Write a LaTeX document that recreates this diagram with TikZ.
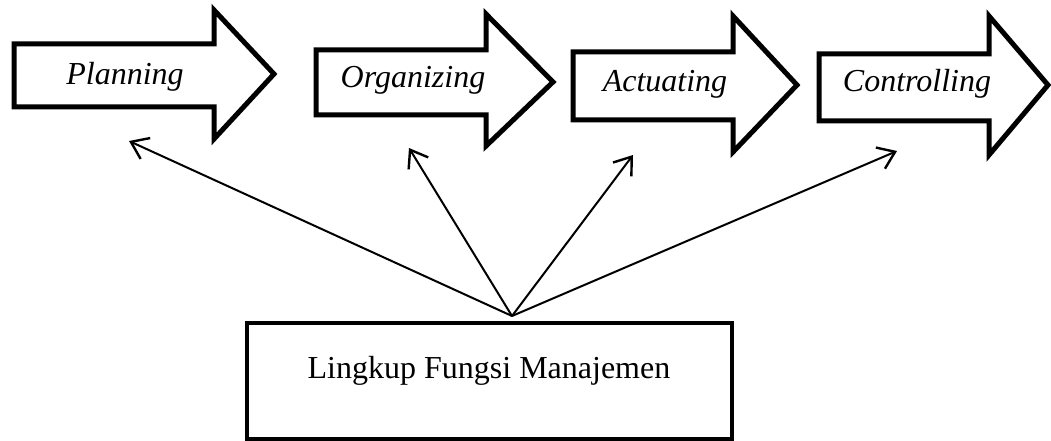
\documentclass[tikz,border=0pt]{standalone}
\usepackage{fontspec}
\setmainfont{Liberation Serif}
\usetikzlibrary{arrows.meta}
\begin{document}
\begin{tikzpicture}[x=1pt,y=-1pt,
  bigarrow/.style={draw=black,line width=5pt,miter limit=10,fill=white},
  func/.style={font=\fontsize{32}{38}\selectfont\itshape,anchor=base,inner sep=0pt},
  boxtext/.style={font=\fontsize{32}{38}\selectfont,anchor=base,inner sep=0pt},
  link/.style={line width=2pt,-{Straight Barb[length=16pt,width=23pt,line width=2.4pt]}}]
\useasboundingbox (0,0) rectangle (1051,441);
% block arrows
\draw[bigarrow] (14,44) -- (214,44) -- (214,10) -- (274,74) -- (214,139) -- (214,107) -- (14,107) -- cycle;
\draw[bigarrow] (316,50) -- (486,50) -- (486,14) -- (553,82) -- (486,146) -- (486,115) -- (316,115) -- cycle;
\draw[bigarrow] (573,52) -- (733,52) -- (733,16) -- (797,85) -- (733,152) -- (733,120) -- (573,120) -- cycle;
\draw[bigarrow] (819,54) -- (989,54) -- (989,16) -- (1048,85) -- (989,155) -- (989,121) -- (819,121) -- cycle;
% labels
\node[func] (plan) at (125,85) {Planning};
\node[func] (org) at (413,88) {Organizing};
\node[func] (act) at (665,92) {Actuating};
\node[func] (ctrl) at (917,92) {Controlling};
% scope box
\node[draw,line width=4.5pt,minimum width=485pt,minimum height=116pt,inner sep=0pt] (box) at (489.5,381) {};
\node[boxtext] (boxlabel) at (489,378) {Lingkup Fungsi Manajemen};
% connectors
\coordinate (o) at (512,316);
\coordinate (e1) at (129,141);
\coordinate (e2) at (409,148);
\coordinate (e3) at (633,155);
\coordinate (e4) at (897,151);
\draw[link] (o) -- (e1);
\draw[link] (o) -- (e2);
\draw[link] (o) -- (e3);
\draw[link] (o) -- (e4);
\end{tikzpicture}
\end{document}
